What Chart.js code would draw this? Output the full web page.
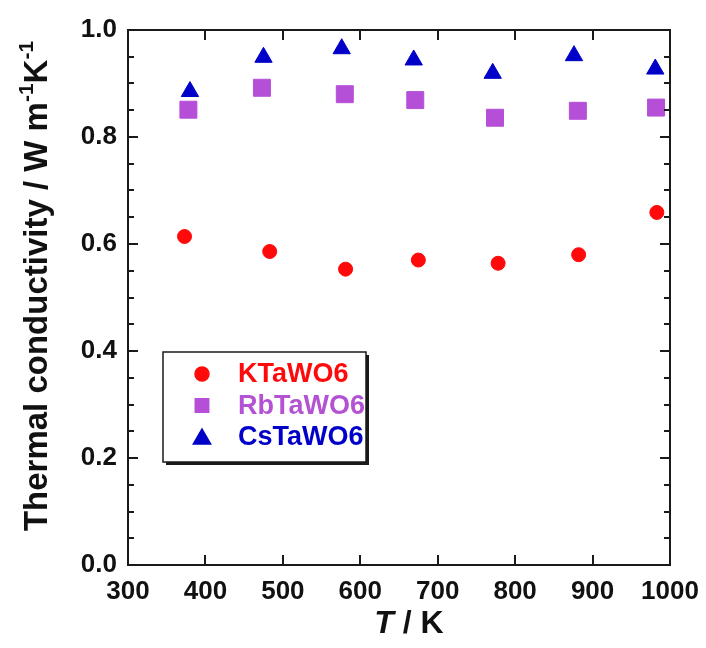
<!DOCTYPE html>
<html>
<head>
<meta charset="utf-8">
<script src="https://cdn.jsdelivr.net/npm/chart.js@4.4.0/dist/chart.umd.min.js"></script>
<style>
  html, body { margin: 0; padding: 0; background: #fff; }
</style>
</head>
<body>
<canvas id="chart" width="706" height="648"></canvas>
<script>
// thermal conductivity vs temperature for the three ATaWO6 compounds
const kTemps  = [373, 483, 581, 675, 778, 882, 983];
const kValues = [0.614, 0.586, 0.553, 0.570, 0.564, 0.580, 0.659];

const rbTemps  = [378, 473, 580, 671, 774, 881, 982];
const rbValues = [0.851, 0.892, 0.880, 0.869, 0.836, 0.849, 0.855];

const csTemps  = [380, 475, 576, 669, 771, 876, 981];
const csValues = [0.885, 0.949, 0.965, 0.944, 0.919, 0.952, 0.927];

const seriesNames = ['KTaWO6', 'RbTaWO6', 'CsTaWO6'];
const xTicks = [300, 400, 500, 600, 700, 800, 900, 1000];
const yTicks = [0.0, 0.2, 0.4, 0.6, 0.8, 1.0];

const FONT = '"Liberation Sans", Arial, Helvetica, sans-serif';
const RED = '#ff0a0a', PURPLE = '#b64fd8', BLUE = '#0000c8';

function toPoints(xs, ys) {
    return xs.map((x, i) => ({ x: x, y: ys[i] }));
}

const data = {
    datasets: [
        {
            label: seriesNames[0],
            data: toPoints(kTemps, kValues),
            pointStyle: 'circle',
            pointRadius: 7,
            borderWidth: 1,
            backgroundColor: RED,
            borderColor: RED,
        },
        {
            label: seriesNames[1],
            data: toPoints(rbTemps, rbValues),
            pointStyle: 'rect',
            pointRadius: 12,
            borderWidth: 1,
            backgroundColor: PURPLE,
            borderColor: PURPLE,
        },
        {
            label: seriesNames[2],
            data: toPoints(csTemps, csValues),
            pointStyle: 'triangle',
            pointRadius: 10,
            borderWidth: 1,
            backgroundColor: BLUE,
            borderColor: BLUE,
        }
    ]
};

// box frame with inward ticks on all four sides
const framePlugin = {
    id: 'frame',
    afterDraw(chart) {
        const { ctx, chartArea: a, scales } = chart;
        const xs = scales.x, ys = scales.y;
        ctx.save();
        ctx.strokeStyle = '#1a1a1a';
        ctx.lineWidth = 2;
        ctx.strokeRect(a.left, a.top, a.right - a.left, a.bottom - a.top);
        ctx.beginPath();
        xTicks.forEach(v => {
            const px = Math.round(xs.getPixelForValue(v));
            ctx.moveTo(px, a.bottom); ctx.lineTo(px, a.bottom - 10);
            ctx.moveTo(px, a.top); ctx.lineTo(px, a.top + 10);
        });
        for (let i = 0; i <= 20; i++) {
            const v = i * 0.05;
            const len = i % 4 === 0 ? 10 : 6;
            const py = Math.round(ys.getPixelForValue(v));
            ctx.moveTo(a.left, py); ctx.lineTo(a.left + len, py);
            ctx.moveTo(a.right, py); ctx.lineTo(a.right - len, py);
        }
        ctx.stroke();
        ctx.restore();
    }
};

// axis titles with italic symbol and superscripts
const titlePlugin = {
    id: 'axisTitles',
    afterDraw(chart) {
        const { ctx, chartArea: a } = chart;
        ctx.save();
        ctx.fillStyle = '#111';
        ctx.textBaseline = 'alphabetic';

        // x title: "T / K"
        const xBold = 'bold 32px ' + FONT;
        const xItal = 'italic bold 32px ' + FONT;
        ctx.font = xItal;
        const wT = ctx.measureText('T').width;
        ctx.font = xBold;
        const wRest = ctx.measureText(' / K').width;
        let x = (a.left + a.right) / 2 + 10 - (wT + wRest) / 2;
        ctx.font = xItal;
        ctx.fillText('T', x, 633);
        ctx.font = xBold;
        ctx.fillText(' / K', x + wT, 633);

        // y title, rotated
        const bold = 'bold 33px ' + FONT;
        const parts = [
            { t: 'Thermal conductivity / W m', sup: false },
            { t: '-1', sup: true },
            { t: 'K', sup: false },
            { t: '-1', sup: true }
        ];
        const supFont = 'bold 21px ' + FONT;
        let total = 0;
        parts.forEach(p => {
            ctx.font = p.sup ? supFont : bold;
            p.w = ctx.measureText(p.t).width;
            total += p.w;
        });
        ctx.translate(47, 286);
        ctx.rotate(-Math.PI / 2);
        let cx = -total / 2;
        parts.forEach(p => {
            ctx.font = p.sup ? supFont : bold;
            ctx.fillText(p.t, cx, p.sup ? -14 : 0);
            cx += p.w;
        });
        ctx.restore();
    }
};

// boxed legend with drop shadow and coloured labels
const legendPlugin = {
    id: 'boxLegend',
    afterDraw(chart) {
        const { ctx, chartArea: a } = chart;
        const left = a.left + 35, top = a.top + 322, w = 203, h = 110;
        ctx.save();
        ctx.fillStyle = '#1a1a1a';
        ctx.fillRect(left + 3, top + 3, w, h);
        ctx.fillStyle = '#fff';
        ctx.fillRect(left, top, w, h);
        ctx.strokeStyle = '#1a1a1a';
        ctx.lineWidth = 1.5;
        ctx.strokeRect(left, top, w, h);

        const textColors = [RED, '#b452d4', BLUE];
        const radii = [7, 9.5, 10];
        chart.data.datasets.forEach((ds, i) => {
            const cy = top + 22 + i * 31.5;
            ctx.fillStyle = ds.backgroundColor;
            ctx.strokeStyle = ds.borderColor;
            Chart.helpers.drawPoint(ctx, {
                pointStyle: ds.pointStyle,
                radius: radii[i],
                borderWidth: 1,
                rotation: 0
            }, left + 39, cy + (ds.pointStyle === 'triangle' ? 2 : 0));
            ctx.fillStyle = textColors[i];
            ctx.font = 'bold 27px ' + FONT;
            ctx.textBaseline = 'middle';
            ctx.fillText(ds.label, left + 75, cy + 1);
        });
        ctx.restore();
    }
};

new Chart(document.getElementById('chart'), {
    type: 'scatter',
    data: data,
    plugins: [framePlugin, titlePlugin, legendPlugin],
    options: {
        responsive: false,
        animation: false,
        layout: {
            padding: { top: 30, right: 36, left: 0, bottom: 0 }
        },
        plugins: {
            legend: { display: false },
            tooltip: { enabled: false }
        },
        scales: {
            x: {
                type: 'linear',
                min: 300,
                max: 1000,
                afterFit(scale) {
                    scale.height = 83;
                    // let the end labels overhang into the page margin
                    scale.paddingLeft = 0;
                    scale.paddingRight = 0;
                },
                grid: { display: false, drawTicks: false },
                border: { display: false },
                ticks: {
                    stepSize: 100,
                    padding: 11,
                    color: '#111',
                    font: { family: FONT, size: 26, weight: 'bold' },
                    callback: v => String(v)
                }
            },
            y: {
                type: 'linear',
                min: 0,
                max: 1,
                afterFit(scale) { scale.width = 128; },
                grid: { display: false, drawTicks: false },
                border: { display: false },
                ticks: {
                    stepSize: 0.2,
                    padding: 11,
                    color: '#111',
                    font: { family: FONT, size: 26, weight: 'bold' },
                    callback: v => v.toFixed(1)
                }
            }
        }
    }
});
</script>
</body>
</html>
